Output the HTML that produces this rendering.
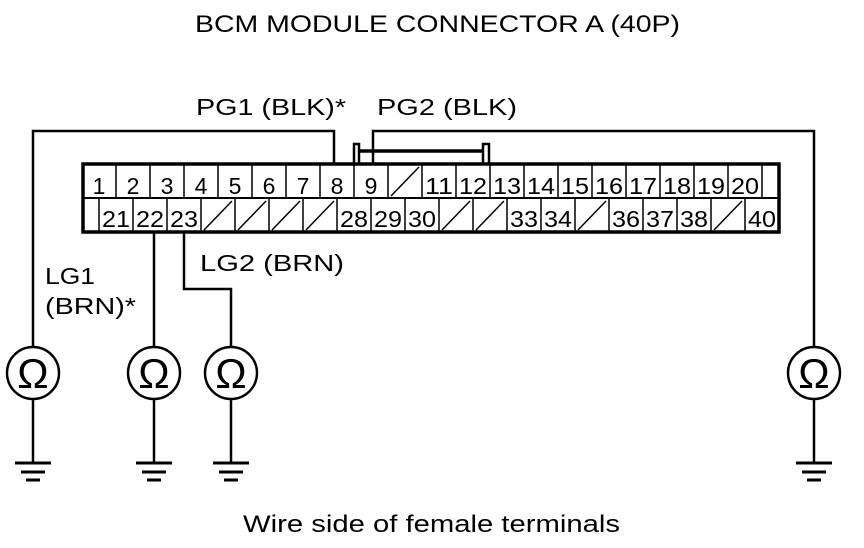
<!DOCTYPE html>
<html><head><meta charset="utf-8"><style>html,body{margin:0;padding:0;background:#fff}svg{display:block}</style></head>
<body>
<svg width="864" height="548" viewBox="0 0 864 548" xmlns="http://www.w3.org/2000/svg" font-family="Liberation Sans, sans-serif">
<g fill="#000">
<text x="195" y="32" font-size="24" textLength="485" lengthAdjust="spacingAndGlyphs">BCM MODULE CONNECTOR A (40P)</text>
<text x="243" y="532" font-size="24" textLength="377" lengthAdjust="spacingAndGlyphs">Wire side of female terminals</text>
<text x="196" y="115" font-size="23" textLength="150" lengthAdjust="spacingAndGlyphs">PG1 (BLK)*</text>
<text x="377" y="115" font-size="23" textLength="140" lengthAdjust="spacingAndGlyphs">PG2 (BLK)</text>
<text x="200" y="271" font-size="23" textLength="144" lengthAdjust="spacingAndGlyphs">LG2 (BRN)</text>
<text x="45" y="284" font-size="23" textLength="50" lengthAdjust="spacingAndGlyphs">LG1</text>
<text x="45" y="314" font-size="23" textLength="91" lengthAdjust="spacingAndGlyphs">(BRN)*</text>
</g>
<g stroke="#000" fill="none">
<polyline points="33,346 33,131 334,131 334,163" stroke-width="2.5"/>
<polyline points="373,163 373,131 814,131 814,346" stroke-width="2.5"/>
<line x1="154" y1="233" x2="154" y2="346" stroke-width="2.5"/>
<polyline points="184,233 184,289 231,289 231,346" stroke-width="2.5"/>
<polyline points="354,163 354,144 359,144 359,163" stroke-width="2.5"/>
<polyline points="483,163 483,144 489,144 489,163" stroke-width="2.5"/>
<line x1="359" y1="151" x2="483" y2="151" stroke-width="3.5"/>
<rect x="83" y="164" width="696" height="68" stroke-width="3.5"/>
<line x1="83" y1="198" x2="779" y2="198" stroke-width="2"/>
</g>
<g stroke="#000" stroke-width="1.5" id="cells"></g>
<g font-size="23" text-anchor="middle" fill="#000" id="nums"></g>
<g id="meters" stroke="#000" fill="none"></g>
<script>
var ns="http://www.w3.org/2000/svg";
function el(t,a,p){var e=document.createElementNS(ns,t);for(var k in a)e.setAttribute(k,a[k]);p.appendChild(e);return e;}
var cells=document.getElementById('cells'),nums=document.getElementById('nums'),m=document.getElementById('meters');
function num(x,y,n){var a={x:x,y:y};if(n>9){a.textLength=28;a.lengthAdjust='spacingAndGlyphs';}var t=el('text',a,nums);t.textContent=n;}
for(var i=1;i<=20;i++){var x=82+34*i;el('line',{x1:x,y1:164,x2:x,y2:198},cells);}
for(var i=0;i<20;i++){var x=82+34*i,n=i+1;
 if(n==10){el('line',{x1:x+3,y1:196,x2:x+31,y2:167},cells);}
 else num(x+17,194,n);}
var sl=[24,25,26,27,31,32,35,39];
for(var i=0;i<=20;i++){var x=99+34*i;el('line',{x1:x,y1:198,x2:x,y2:232},cells);}
for(var i=0;i<20;i++){var x=99+34*i,n=21+i;
 if(sl.indexOf(n)>=0){el('line',{x1:x+3,y1:230,x2:x+31,y2:201},cells);}
 else num(x+17,227,n);}
[33,154,231,814].forEach(function(cx){
 el('circle',{cx:cx,cy:373,r:26,'stroke-width':2.5},m);
 var t=el('text',{x:cx,y:388,'font-size':42,'text-anchor':'middle',fill:'#000',stroke:'none'},m);t.textContent='Ω';
 el('line',{x1:cx,y1:399,x2:cx,y2:463,'stroke-width':2.5},m);
 el('line',{x1:cx-18,y1:463,x2:cx+18,y2:463,'stroke-width':3},m);
 el('line',{x1:cx-12,y1:472,x2:cx+12,y2:472,'stroke-width':3},m);
 el('line',{x1:cx-7,y1:480,x2:cx+7,y2:480,'stroke-width':3},m);
});
</script>
</svg>
</body></html>
